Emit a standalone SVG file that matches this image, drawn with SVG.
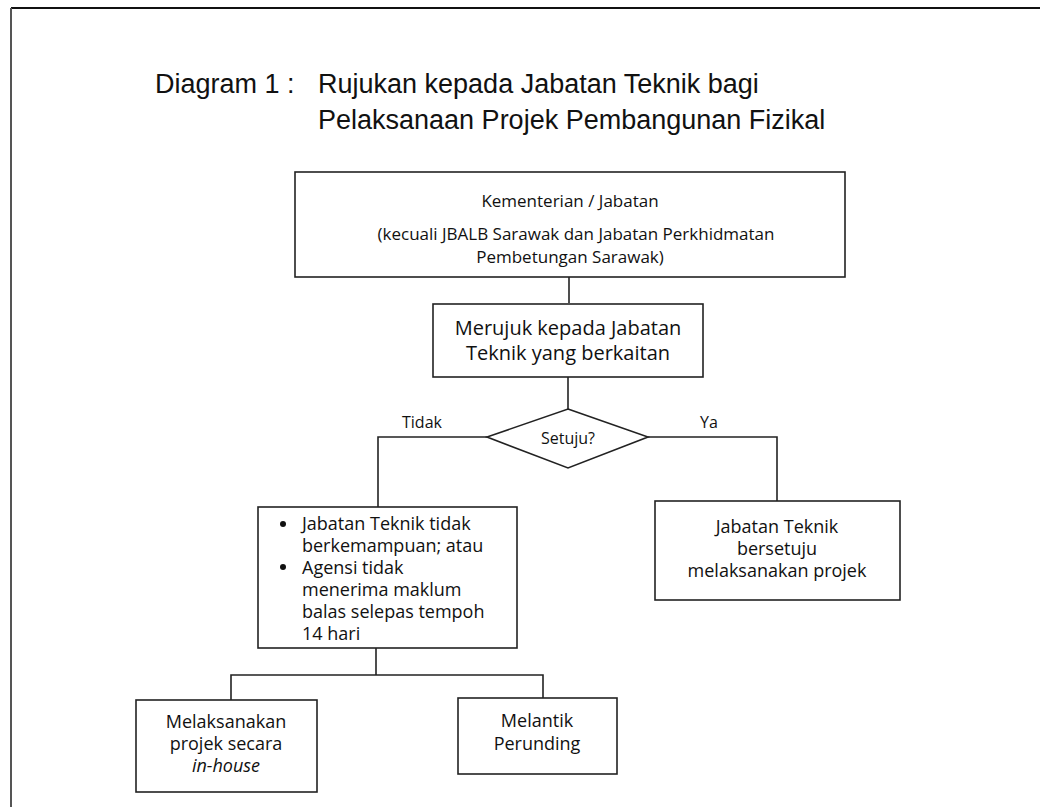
<svg xmlns="http://www.w3.org/2000/svg" width="1040" height="807" viewBox="0 0 1040 807">
<style>
.box{fill:#fff;stroke:#222;stroke-width:1.6}
.ln{fill:none;stroke:#222;stroke-width:1.6}
.t{font-family:"Open Sans","DejaVu Sans",sans-serif;fill:#111;font-size:18px}
.c{text-anchor:middle}
.s16{font-size:16px}
.s17{font-size:17px}
.ttl{font-family:"Liberation Sans",Arial,sans-serif;font-size:27px;fill:#111}
</style>
<rect width="1040" height="807" fill="#fff"/>
<g id="frame">
<line x1="11" y1="8" x2="1040" y2="8" stroke="#111" stroke-width="2"/>
<line x1="11" y1="8" x2="11" y2="807" stroke="#555" stroke-width="2"/>
</g>
<g id="title">
<text class="ttl" x="155" y="93">Diagram 1 :</text>
<text class="ttl" x="318" y="93">Rujukan kepada Jabatan Teknik bagi</text>
<text class="ttl" x="318" y="129">Pelaksanaan Projek Pembangunan Fizikal</text>
</g>
<g id="connectors">
<path class="ln" d="M569 277V303"/>
<path class="ln" d="M568 377V409"/>
<path class="ln" d="M487 437H378V507"/>
<path class="ln" d="M648 437H777V501"/>
<path class="ln" d="M376 648V675"/>
<path class="ln" d="M231 700V675H543V698"/>
<text class="t s16" x="402" y="428">Tidak</text>
<text class="t s16" x="700" y="428">Ya</text>
</g>
<g id="n1">
<rect class="box" x="295" y="172" width="550" height="105"/>
<text class="t c s17" x="570" y="207">Kementerian / Jabatan</text>
<text class="t c s17" x="576" y="240">(kecuali JBALB Sarawak dan Jabatan Perkhidmatan</text>
<text class="t c s17" x="570" y="263">Pembetungan Sarawak)</text>
</g>
<g id="n2">
<rect class="box" x="433" y="304" width="270" height="73"/>
<text class="t c" x="568" y="335" style="font-size:20px">Merujuk kepada Jabatan</text>
<text class="t c" x="568" y="360" style="font-size:20px">Teknik yang berkaitan</text>
</g>
<g id="n3">
<polygon class="box" points="568,409 648,437 568,468 487,437"/>
<text class="t c s16" x="568" y="444">Setuju?</text>
</g>
<g id="n4">
<rect class="box" x="258" y="507" width="259" height="141"/>
<circle cx="283" cy="524" r="3" fill="#111"/>
<circle cx="283" cy="567" r="3" fill="#111"/>
<text class="t" x="302" y="530">Jabatan Teknik tidak</text>
<text class="t" x="302" y="552">berkemampuan; atau</text>
<text class="t" x="302" y="574">Agensi tidak</text>
<text class="t" x="302" y="596">menerima maklum</text>
<text class="t" x="302" y="618">balas selepas tempoh</text>
<text class="t" x="302" y="640">14 hari</text>
</g>
<g id="n5">
<rect class="box" x="655" y="501" width="245" height="99"/>
<text class="t c" x="777" y="533">Jabatan Teknik</text>
<text class="t c" x="777" y="555">bersetuju</text>
<text class="t c" x="777" y="577">melaksanakan projek</text>
</g>
<g id="n6">
<rect class="box" x="136" y="700" width="181" height="92"/>
<text class="t c" x="226" y="728">Melaksanakan</text>
<text class="t c" x="226" y="750">projek secara</text>
<text class="t c" x="226" y="772" font-style="italic">in-house</text>
</g>
<g id="n7">
<rect class="box" x="458" y="698" width="159" height="76"/>
<text class="t c" x="537" y="727">Melantik</text>
<text class="t c" x="537" y="750">Perunding</text>
</g>
</svg>
